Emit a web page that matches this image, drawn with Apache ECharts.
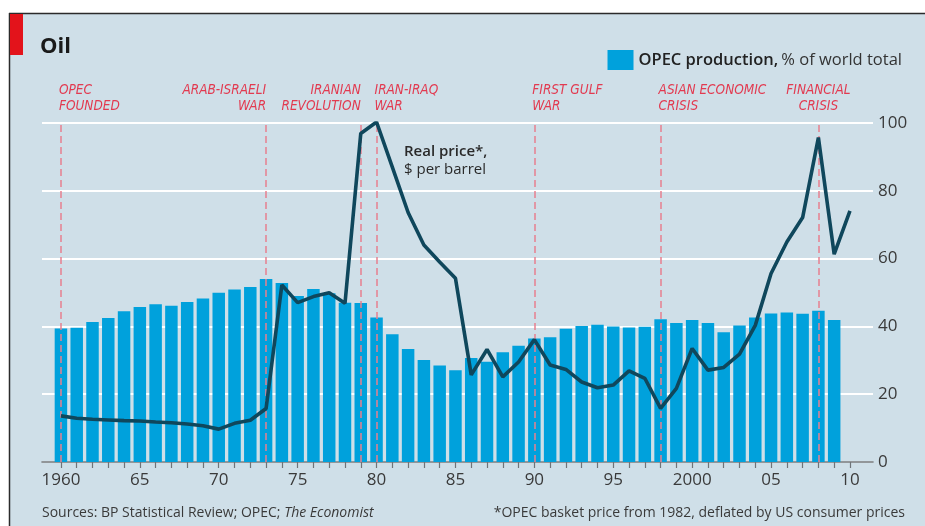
<!DOCTYPE html>
<html>
<head>
<meta charset="utf-8">
<title>Oil</title>
<script src="https://cdn.jsdelivr.net/npm/echarts@6/dist/echarts.min.js"></script>
<style>
  html, body { margin: 0; padding: 0; background: #fff; }
  #chart { width: 925px; height: 526px; }
</style>
</head>
<body>
<div id="chart"></div>
<script>
// OPEC production, % of world total (bars), 1960-2009
const barYears = [
  1960, 1961, 1962, 1963, 1964, 1965, 1966, 1967, 1968, 1969,
  1970, 1971, 1972, 1973, 1974, 1975, 1976, 1977, 1978, 1979,
  1980, 1981, 1982, 1983, 1984, 1985, 1986, 1987, 1988, 1989,
  1990, 1991, 1992, 1993, 1994, 1995, 1996, 1997, 1998, 1999,
  2000, 2001, 2002, 2003, 2004, 2005, 2006, 2007, 2008, 2009
]
const opecShare = [
  39.4, 39.6, 41.3, 42.5, 44.5, 45.7, 46.5, 46.1, 47.2, 48.2,
  49.9, 50.9, 51.6, 54.0, 52.8, 49.0, 51.0, 49.8, 47.0, 46.9,
  42.6, 37.7, 33.3, 30.1, 28.5, 27.1, 30.7, 29.6, 32.4, 34.3,
  36.4, 36.8, 39.3, 40.1, 40.5, 40.0, 39.7, 39.9, 42.1, 41.0,
  41.9, 41.0, 38.3, 40.3, 42.6, 43.8, 44.1, 43.7, 44.6, 41.9
]

// real price, $ per barrel (line), 1960-2010
const priceYears = [
  1960, 1961, 1962, 1963, 1964, 1965, 1966, 1967, 1968, 1969,
  1970, 1971, 1972, 1973, 1974, 1975, 1976, 1977, 1978, 1979,
  1980, 1981, 1982, 1983, 1984, 1985, 1986, 1987, 1988, 1989,
  1990, 1991, 1992, 1993, 1994, 1995, 1996, 1997, 1998, 1999,
  2000, 2001, 2002, 2003, 2004, 2005, 2006, 2007, 2008, 2009,
  2010
]
const realPrice = [
  13.6, 12.9, 12.6, 12.4, 12.2, 12.1, 11.8, 11.6, 11.2, 10.7,
  9.7, 11.4, 12.3, 15.8, 52.2, 47.0, 48.8, 49.9, 46.8, 96.9,
  100.3, 87.0, 73.6, 64.0, 59.0, 54.2, 25.7, 33.2, 25.1, 29.5,
  36.1, 28.6, 27.3, 23.6, 21.9, 22.7, 26.9, 24.7, 15.8, 21.7,
  33.5, 27.1, 27.9, 31.8, 40.3, 55.6, 64.9, 72.1, 95.7, 61.3,
  74.1
]

// x axis ticks and labels
const tickYears = priceYears
const labelYears = [1960, 1965, 1970, 1975, 1980, 1985, 1990, 1995, 2000, 2005, 2010]
const labelTexts = ['1960', '65', '70', '75', '80', '85', '90', '95', '2000', '05', '10']

// events marked with dashed lines
const eventYears = [1960, 1973, 1979, 1980, 1990, 1998, 2008]
const eventTexts = [
  'OPEC\nFOUNDED', 'ARAB-ISRAELI\nWAR', 'IRANIAN\nREVOLUTION', 'IRAN-IRAQ\nWAR',
  'FIRST GULF\nWAR', 'ASIAN ECONOMIC\nCRISIS', 'FINANCIAL\nCRISIS'
]
const eventAlign = ['left', 'right', 'right', 'left', 'left', 'left', 'center']

const BG = '#cfdfe8'
const BAR = '#00a1dc'
const LINE = '#0f475c'
const RED = '#e23a50'
const FONT = "'Open Sans', 'DejaVu Sans', sans-serif"
const NARROW = "'DejaVu Sans Condensed', 'Liberation Sans Narrow', sans-serif"

const chart = echarts.init(document.getElementById('chart'))

chart.setOption({
  backgroundColor: BG,
  animation: false,
  textStyle: { fontFamily: FONT },
  grid: { left: 42, right: 52, top: 123, bottom: 64 },
  legend: {
    data: ['OPEC production'],
    right: 18,
    top: 45,
    icon: 'rect',
    itemWidth: 26,
    itemHeight: 20,
    formatter: () => '{b|OPEC production,} {n|% of world total}',
    textStyle: {
      rich: {
        b: { fontFamily: FONT, fontSize: 16.5, fontWeight: 600, color: '#222' },
        n: { fontFamily: FONT, fontSize: 16.5, color: '#333' }
      }
    }
  },
  xAxis: {
    type: 'value',
    min: 1958.8,
    max: 2011.46,
    splitLine: { show: false },
    axisLine: { lineStyle: { color: '#6f7478', width: 1.5 } },
    axisTick: {
      customValues: tickYears,
      length: 6,
      lineStyle: { color: '#6f7478', width: 1.2 }
    },
    axisLabel: {
      customValues: labelYears,
      formatter: v => labelTexts[labelYears.indexOf(Math.round(v))],
      margin: 10,
      fontSize: 17,
      color: '#3a3a3a',
      fontFamily: FONT
    }
  },
  yAxis: {
    type: 'value',
    position: 'right',
    min: 0,
    max: 100,
    interval: 20,
    axisLine: { show: false },
    axisTick: { show: false },
    splitLine: { lineStyle: { color: '#ffffff', width: 2 } },
    axisLabel: { margin: 5, fontSize: 17, color: '#3a3a3a', fontFamily: FONT }
  },
  series: [
    {
      name: 'OPEC production',
      type: 'bar',
      barWidth: 12.5,
      itemStyle: { color: BAR },
      data: barYears.map((y, i) => [y, opecShare[i]])
    },
    {
      name: 'Real price',
      type: 'line',
      symbol: 'none',
      z: 5,
      lineStyle: { color: LINE, width: 3.6 },
      data: priceYears.map((y, i) => [y, realPrice[i]]),
      markLine: {
        silent: true,
        symbol: 'none',
        z: 3,
        label: { show: false },
        lineStyle: { color: '#e8808e', type: [7, 4], width: 1.5 },
        data: eventYears.map(y => ({ xAxis: y }))
      }
    }
  ]
})

// event labels placed above each dashed line
const eventGraphics = eventYears.map((y, i) => {
  let x = chart.convertToPixel({ xAxisIndex: 0 }, y)
  if (eventAlign[i] === 'left') x -= 2
  return {
    type: 'text',
    x: x,
    y: 82,
    style: {
      text: eventTexts[i],
      align: eventAlign[i],
      verticalAlign: 'top',
      fill: RED,
      font: 'italic 13.5px ' + NARROW,
      lineHeight: 16.5
    }
  }
})

chart.setOption({
  graphic: [
    // white margin and frame
    { type: 'rect', shape: { x: 0, y: 0, width: 925, height: 13 }, style: { fill: '#fff' } },
    { type: 'rect', shape: { x: 0, y: 0, width: 9, height: 526 }, style: { fill: '#fff' } },
    { type: 'line', shape: { x1: 9, y1: 13.5, x2: 925, y2: 13.5 }, style: { stroke: '#2b2b2b', lineWidth: 1.5 } },
    { type: 'line', shape: { x1: 9.5, y1: 13, x2: 9.5, y2: 526 }, style: { stroke: '#2b2b2b', lineWidth: 1.5 } },
    { type: 'rect', shape: { x: 10, y: 14, width: 13, height: 41 }, style: { fill: '#e3131b' } },
    {
      type: 'text', x: 40, y: 47,
      style: { text: 'Oil', font: 'bold 22px ' + FONT, fill: '#1a1a1a', verticalAlign: 'middle' }
    },
    {
      type: 'text', x: 404, y: 143,
      style: {
        text: '{b|Real price*,}\n{n|$ per barrel}',
        verticalAlign: 'top',
        rich: {
          b: { fontFamily: FONT, fontSize: 15, fontWeight: 600, fill: '#2a2a2a', lineHeight: 18 },
          n: { fontFamily: FONT, fontSize: 15, fill: '#2a2a2a', lineHeight: 18 }
        }
      }
    },
    {
      type: 'text', x: 42, y: 513,
      style: {
        text: '{n|Sources: BP Statistical Review; OPEC; }{i|The Economist}',
        verticalAlign: 'middle',
        rich: {
          n: { fontFamily: FONT, fontSize: 14, fill: '#3a3a3a' },
          i: { fontFamily: FONT, fontSize: 14, fontStyle: 'italic', fill: '#3a3a3a' }
        }
      }
    },
    {
      type: 'text', x: 905, y: 513,
      style: {
        text: '*OPEC basket price from 1982, deflated by US consumer prices',
        align: 'right',
        verticalAlign: 'middle',
        font: '14px ' + FONT,
        fill: '#3a3a3a'
      }
    }
  ].concat(eventGraphics)
})
</script>
</body>
</html>
